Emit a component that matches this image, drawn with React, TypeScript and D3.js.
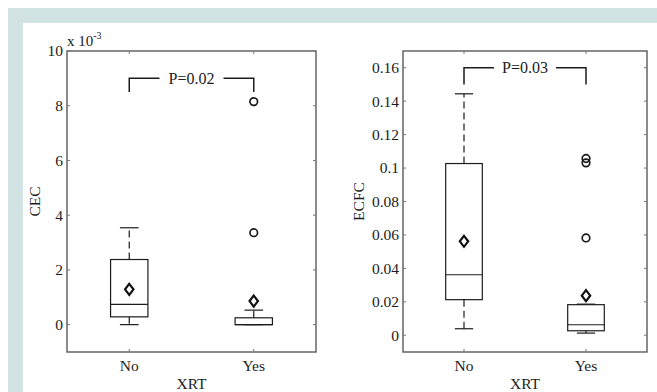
import React from 'react';
import * as d3 from 'd3';

const categories = ['No', 'Yes'];

// CEC (x 10^-3)
const cecWhiskerLow = [0, 0];
const cecQ1 = [0.285, 0];
const cecMedian = [0.74, 0];
const cecQ3 = [2.38, 0.25];
const cecWhiskerHigh = [3.54, 0.53];
const cecMean = [1.29, 0.86];
const cecOutliers = [[], [3.36, 8.15]];
const cecTicks = [0, 2, 4, 6, 8, 10];
const cecTickLabels = ['0', '2', '4', '6', '8', '10'];

// ECFC
const ecfcWhiskerLow = [0.0039, 0.0013];
const ecfcQ1 = [0.0213, 0.0027];
const ecfcMedian = [0.0362, 0.0063];
const ecfcQ3 = [0.1027, 0.0183];
const ecfcWhiskerHigh = [0.1444, 0.0186];
const ecfcMean = [0.0562, 0.0237];
const ecfcOutliers = [[], [0.0582, 0.1031, 0.1057]];
const ecfcTicks = [0, 0.02, 0.04, 0.06, 0.08, 0.1, 0.12, 0.14, 0.16];
const ecfcTickLabels = ['0', '0.02', '0.04', '0.06', '0.08', '0.1', '0.12', '0.14', '0.16'];

const FONT = '"Liberation Serif", "Times New Roman", serif';
const INK = '#1c1c1c';

type PanelProps = {
  x0: number; x1: number; y0: number; y1: number;
  yDomain: [number, number];
  wl: number[]; q1: number[]; med: number[]; q3: number[]; wh: number[];
  mean: number[]; outliers: number[][];
  ticks: number[]; tickLabels: string[];
  ylabel: string; ylabelX: number;
  bracket: [number, number]; pText: string; pGap: number;
};

function Panel(p: PanelProps) {
  const x = d3.scaleLinear().domain([0.5, 2.5]).range([p.x0, p.x1]);
  const y = d3.scaleLinear().domain(p.yDomain).range([p.y1, p.y0]);
  const bw = x(0.15) - x(0);
  const cw = x(0.075) - x(0);
  const tl = 3;
  const bracketTopY = y(p.bracket[0]);
  const bracketBotY = y(p.bracket[1]);
  const xa = x(1), xb = x(2);
  const xm = (xa + xb) / 2;
  return (
    <g>
      <rect x={p.x0} y={p.y0} width={p.x1 - p.x0} height={p.y1 - p.y0} fill="#fff" stroke="#5a5a5a" strokeWidth={1.4} />
      {p.ticks.map((t, i) => (
        <g key={'t' + i}>
          <line x1={p.x0} x2={p.x0 + tl} y1={y(t)} y2={y(t)} stroke="#777" />
          <line x1={p.x1} x2={p.x1 - tl} y1={y(t)} y2={y(t)} stroke="#777" />
          <text x={p.x0 - 4} y={y(t)} dy="0.35em" textAnchor="end" fontFamily={FONT} fontSize={15.5} fill={INK}>{p.tickLabels[i]}</text>
        </g>
      ))}
      {categories.map((c, i) => (
        <g key={'c' + i}>
          <line x1={x(i + 1)} x2={x(i + 1)} y1={p.y1} y2={p.y1 - tl} stroke="#777" />
          <line x1={x(i + 1)} x2={x(i + 1)} y1={p.y0} y2={p.y0 + tl} stroke="#777" />
          <text x={x(i + 1)} y={371} textAnchor="middle" fontFamily={FONT} fontSize={15.5} fill={INK}>{c}</text>
        </g>
      ))}
      <text x={(p.x0 + p.x1) / 2} y={389} textAnchor="middle" fontFamily={FONT} fontSize={15.5} fill={INK}>XRT</text>
      <text transform={`translate(${p.ylabelX},${(p.y0 + p.y1) / 2}) rotate(-90)`} textAnchor="middle" dy="0.35em" fontFamily={FONT} fontSize={15.5} fill={INK}>{p.ylabel}</text>
      {categories.map((c, i) => {
        const cx = x(i + 1);
        return (
          <g key={'b' + i} stroke={INK} fill="none" strokeWidth={1.2}>
            <line x1={cx} x2={cx} y1={y(p.q3[i])} y2={y(p.wh[i])} strokeDasharray="7,4" />
            <line x1={cx} x2={cx} y1={y(p.q1[i])} y2={y(p.wl[i])} strokeDasharray="7,4" />
            <line x1={cx - cw} x2={cx + cw} y1={y(p.wh[i])} y2={y(p.wh[i])} />
            <line x1={cx - cw} x2={cx + cw} y1={y(p.wl[i])} y2={y(p.wl[i])} />
            <rect x={cx - bw} width={2 * bw} y={y(p.q3[i])} height={y(p.q1[i]) - y(p.q3[i])} />
            <line x1={cx - bw} x2={cx + bw} y1={y(p.med[i])} y2={y(p.med[i])} />
            {p.outliers[i].map((o, j) => (
              <circle key={j} cx={cx} cy={y(o)} r={3.8} strokeWidth={1.7} />
            ))}
            <path d={`M${cx},${y(p.mean[i]) - 5.5} L${cx + 4.2},${y(p.mean[i])} L${cx},${y(p.mean[i]) + 5.5} L${cx - 4.2},${y(p.mean[i])} Z`} strokeWidth={2.2} stroke="#111" />
          </g>
        );
      })}
      <g stroke={INK} strokeWidth={1.5} fill="none">
        <path d={`M${xa},${bracketBotY} V${bracketTopY} H${xm - p.pGap}`} />
        <path d={`M${xm + p.pGap},${bracketTopY} H${xb} V${bracketBotY}`} />
      </g>
      <text x={xm} y={bracketTopY} dy="0.35em" textAnchor="middle" fontFamily={FONT} fontSize={16} fill={INK}>{p.pText}</text>
    </g>
  );
}

export default function App() {
  return (
    <svg width={657} height={392} style={{ position: 'absolute', left: 0, top: 0, background: '#fff' }}>
      <rect x={8} y={8} width={649} height={384} fill="#d1e2e2" />
      <rect x={23} y={23} width={634} height={369} fill="#fff" />
      <Panel x0={67} x1={316} y0={51} y1={352} yDomain={[-1, 10]}
        wl={cecWhiskerLow} q1={cecQ1} med={cecMedian} q3={cecQ3} wh={cecWhiskerHigh}
        mean={cecMean} outliers={cecOutliers} ticks={cecTicks} tickLabels={cecTickLabels}
        ylabel="CEC" ylabelX={35} bracket={[9, 8.5]} pText="P=0.02" pGap={32} />
      <text x={67} y={46} fontFamily={FONT} fontSize={15} fill={INK}>x 10<tspan dy={-7} fontSize={10}>-3</tspan></text>
      <Panel x0={403} x1={647} y0={51} y1={352} yDomain={[-0.01, 0.17]}
        wl={ecfcWhiskerLow} q1={ecfcQ1} med={ecfcMedian} q3={ecfcQ3} wh={ecfcWhiskerHigh}
        mean={ecfcMean} outliers={ecfcOutliers} ticks={ecfcTicks} tickLabels={ecfcTickLabels}
        ylabel="ECFC" ylabelX={359} bracket={[0.16, 0.15]} pText="P=0.03" pGap={31} />
    </svg>
  );
}
